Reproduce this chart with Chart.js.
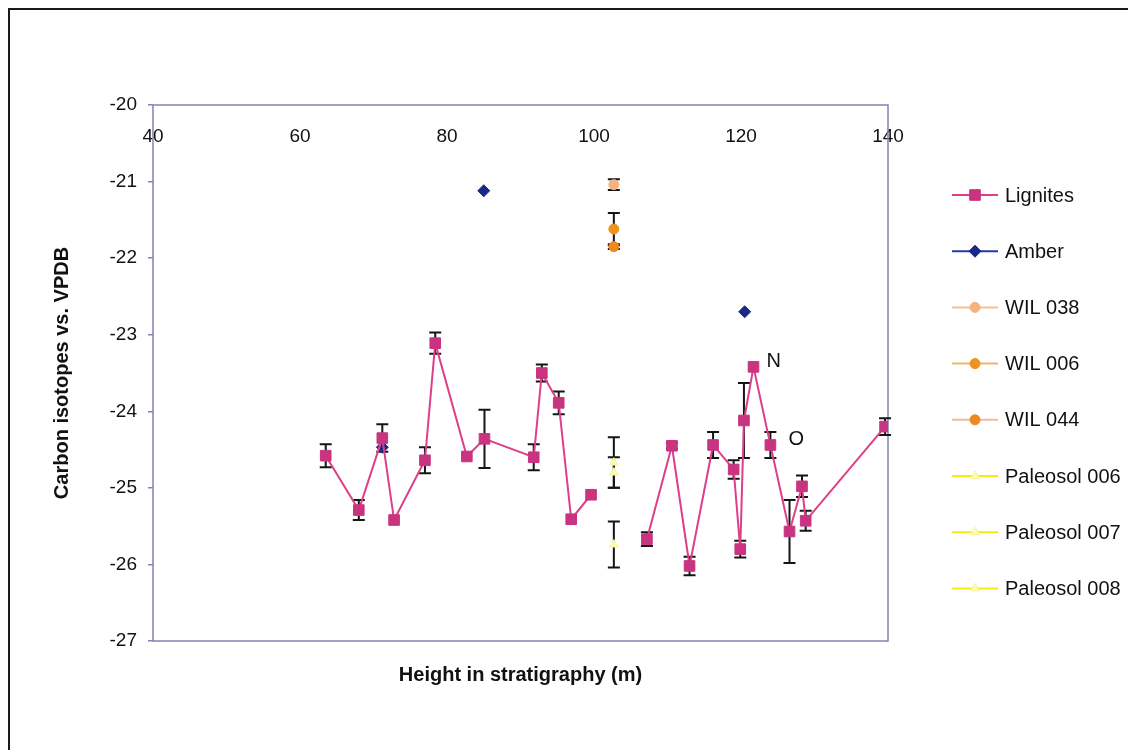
<!DOCTYPE html>
<html>
<head>
<meta charset="utf-8">
<title>Carbon isotopes vs. VPDB</title>
<script src="https://cdn.jsdelivr.net/npm/chart.js@4.4.1/dist/chart.umd.min.js"></script>
<style>
    html, body { margin: 0; padding: 0; background: #ffffff; }
    #chartBox { width: 1128px; height: 750px; }
</style>
</head>
<body>
<div id="chartBox"><canvas id="isotopeChart" width="1128" height="750"></canvas></div>
<script>
// axis ticks
const xTickValues = [40, 60, 80, 100, 120, 140];
const yTickValues = [-27, -26, -25, -24, -23, -22, -21, -20];

// Lignites (null = break in the line)
const ligniteX = [63.5, 68.0, 71.2, 72.8, 77.0, 78.4, 82.7, 85.1, 91.8, 92.9, 95.2, 96.9, 99.6, 103.0,
    107.2, 110.6, 113.0, 116.2, 119.0, 119.9, 120.4, 121.7, 124.0, 126.6, 128.3, 128.8, 139.6];
const ligniteY = [-24.58, -25.29, -24.35, -25.42, -24.64, -23.11, -24.59, -24.36, -24.60, -23.50, -23.89, -25.41, -25.09, null,
    -25.67, -24.45, -26.02, -24.44, -24.76, -25.80, -24.12, -23.42, -24.44, -25.57, -24.98, -25.43, -24.20];
const ligniteErr = [0.15, 0.13, 0.18, 0, 0.17, 0.14, 0, 0.38, 0.17, 0.11, 0.15, 0, 0, 0,
    0.09, 0.04, 0.12, 0.17, 0.12, 0.11, 0.49, 0, 0.17, 0.41, 0.14, 0.13, 0.11];

// Amber
const amberX = [71.2, 85.0, 120.5];
const amberY = [-24.47, -21.12, -22.70];

// single samples
const wil038X = [102.7], wil038Y = [-21.04], wil038Err = [0.07];
const wil006X = [102.7], wil006Y = [-21.62], wil006Err = [0.21];
const wil044X = [102.7], wil044Y = [-21.85], wil044Err = [0.03];
const paleo006X = [102.7], paleo006Y = [-24.67], paleo006Err = [0.33];
const paleo007X = [102.7], paleo007Y = [-24.80], paleo007Err = [0.20];
const paleo008X = [102.7], paleo008Y = [-25.74], paleo008Err = [0.30];

// point labels
const pointLabels = [
    { text: 'N', x: 121.7, y: -23.42 },
    { text: 'O', x: 124.0, y: -24.44 }
];

const fontFamily = "'Liberation Sans', Arial, Helvetica, sans-serif";
const plotBorderColor = '#8383b2';

function toPoints(xs, ys) {
    return xs.map((x, i) => ({ x: x, y: ys[i] }));
}

function makeSeries(label, xs, ys, errs, style) {
    return Object.assign({
        label: label,
        data: toPoints(xs, ys),
        errors: errs,
        showLine: false,
        borderWidth: 2,
        pointBorderWidth: 1
    }, style);
}

const datasets = [
    makeSeries('Lignites', ligniteX, ligniteY, ligniteErr, {
        showLine: true, spanGaps: false, borderColor: '#de3f88', legendLine: '#de3f88',
        pointStyle: 'rect', pointRadius: 7.5, pointBackgroundColor: '#c8347f', pointBorderColor: '#c8347f'
    }),
    makeSeries('Amber', amberX, amberY, null, {
        borderColor: '#2438a6', legendLine: '#2438a6',
        pointStyle: 'rectRot', pointRadius: 6, pointBackgroundColor: '#1c2888', pointBorderColor: '#1c2888'
    }),
    makeSeries('WIL 038', wil038X, wil038Y, wil038Err, {
        borderColor: '#f7c08f', legendLine: '#f7c08f',
        pointStyle: 'circle', pointRadius: 5, pointBackgroundColor: '#f6b27e', pointBorderColor: '#f6b27e'
    }),
    makeSeries('WIL 006', wil006X, wil006Y, wil006Err, {
        borderColor: '#f4b46c', legendLine: '#f4b46c',
        pointStyle: 'circle', pointRadius: 5, pointBackgroundColor: '#f0921e', pointBorderColor: '#f0921e'
    }),
    makeSeries('WIL 044', wil044X, wil044Y, wil044Err, {
        borderColor: '#f2b8a2', legendLine: '#f2b8a2',
        pointStyle: 'circle', pointRadius: 5, pointBackgroundColor: '#ec8a22', pointBorderColor: '#ec8a22'
    }),
    makeSeries('Paleosol 006', paleo006X, paleo006Y, paleo006Err, {
        borderColor: '#f2ee10', legendLine: '#f2ee10',
        pointStyle: 'triangle', pointRadius: 5, pointBackgroundColor: '#fdfcb4', pointBorderColor: '#f7f39c'
    }),
    makeSeries('Paleosol 007', paleo007X, paleo007Y, paleo007Err, {
        borderColor: '#f2ee10', legendLine: '#f2ee10',
        pointStyle: 'triangle', pointRadius: 5, pointBackgroundColor: '#fdfcb4', pointBorderColor: '#f7f39c'
    }),
    makeSeries('Paleosol 008', paleo008X, paleo008Y, paleo008Err, {
        borderColor: '#f2ee10', legendLine: '#f2ee10',
        pointStyle: 'triangle', pointRadius: 5, pointBackgroundColor: '#fdfcb4', pointBorderColor: '#f7f39c'
    })
];

// outer frame, plot border and error bars
const framePlugin = {
    id: 'frame',
    beforeDraw(chart) {
        const ctx = chart.ctx;
        ctx.save();
        ctx.fillStyle = '#ffffff';
        ctx.fillRect(0, 0, chart.width, chart.height);
        ctx.strokeStyle = '#1a1a1a';
        ctx.lineWidth = 2;
        ctx.strokeRect(9, 9, chart.width + 20, chart.height + 20);
        ctx.restore();
    },
    beforeDatasetsDraw(chart) {
        const { ctx, chartArea: a, scales } = chart;
        ctx.save();
        ctx.strokeStyle = plotBorderColor;
        ctx.lineWidth = 1.5;
        ctx.strokeRect(a.left, a.top, a.right - a.left, a.bottom - a.top);

        ctx.strokeStyle = '#151515';
        ctx.lineWidth = 2;
        chart.data.datasets.forEach(ds => {
            if (!ds.errors) return;
            ds.data.forEach((p, j) => {
                const e = ds.errors[j];
                if (p.y === null || !e) return;
                const px = scales.x.getPixelForValue(p.x);
                const top = scales.y.getPixelForValue(p.y + e);
                const bottom = scales.y.getPixelForValue(p.y - e);
                ctx.beginPath();
                ctx.moveTo(px, top);
                ctx.lineTo(px, bottom);
                ctx.moveTo(px - 6, top);
                ctx.lineTo(px + 6, top);
                ctx.moveTo(px - 6, bottom);
                ctx.lineTo(px + 6, bottom);
                ctx.stroke();
            });
        });
        ctx.restore();
    },
    afterDraw(chart) {
        const { ctx, scales } = chart;
        ctx.save();
        ctx.fillStyle = '#111111';
        ctx.textBaseline = 'middle';
        ctx.textAlign = 'left';

        // N / O labels next to their points
        ctx.font = '20px ' + fontFamily;
        pointLabels.forEach(l => {
            const px = scales.x.getPixelForValue(l.x);
            const py = scales.y.getPixelForValue(l.y);
            ctx.fillText(l.text, px + (l.text === 'N' ? 13 : 18), py - 5);
        });

        // legend on the right
        ctx.font = '20px ' + fontFamily;
        chart.data.datasets.forEach((ds, i) => {
            const ly = 195 + i * 56.2;
            ctx.strokeStyle = ds.legendLine;
            ctx.lineWidth = 2;
            ctx.beginPath();
            ctx.moveTo(952, ly);
            ctx.lineTo(998, ly);
            ctx.stroke();
            ctx.fillStyle = ds.pointBackgroundColor;
            ctx.strokeStyle = ds.pointBorderColor;
            ctx.lineWidth = 1;
            Chart.helpers.drawPoint(ctx, {
                pointStyle: ds.pointStyle, radius: ds.pointRadius, rotation: 0, borderWidth: 1
            }, 975, ly);
            ctx.fillStyle = '#111111';
            ctx.fillText(ds.label, 1005, ly + 1);
        });
        ctx.restore();
    }
};

const ctx = document.getElementById('isotopeChart').getContext('2d');
new Chart(ctx, {
    type: 'scatter',
    data: { datasets: datasets },
    plugins: [framePlugin],
    options: {
        responsive: false,
        animation: false,
        devicePixelRatio: 1,
        layout: { padding: { left: 40, top: 105, right: 240, bottom: 63 } },
        plugins: {
            legend: { display: false },
            tooltip: { enabled: false }
        },
        scales: {
            x: {
                type: 'linear',
                position: 'top',
                min: xTickValues[0],
                max: xTickValues[xTickValues.length - 1],
                afterBuildTicks: s => { s.ticks = xTickValues.map(v => ({ value: v })); },
                afterFit: s => { s.height = 0; },
                grid: { display: false, drawTicks: false },
                border: { display: false },
                ticks: { mirror: true, padding: 20, color: '#111111', font: { family: fontFamily, size: 19 } }
            },
            xTitle: {
                type: 'linear',
                axis: 'x',
                position: 'bottom',
                min: xTickValues[0],
                max: xTickValues[xTickValues.length - 1],
                afterFit: s => { s.height = 46; },
                grid: { display: false, drawTicks: false },
                border: { display: false },
                ticks: { display: false },
                title: {
                    display: true,
                    text: 'Height in stratigraphy (m)',
                    color: '#111111',
                    padding: 0,
                    font: { family: fontFamily, size: 20, weight: 'bold' }
                }
            },
            y: {
                type: 'linear',
                min: yTickValues[0],
                max: yTickValues[yTickValues.length - 1],
                afterBuildTicks: s => { s.ticks = yTickValues.map(v => ({ value: v })); },
                afterFit: s => { s.width = 113; },
                grid: { drawOnChartArea: false, tickLength: 5, color: plotBorderColor, lineWidth: 1.5 },
                border: { display: false },
                ticks: { padding: 11, color: '#111111', font: { family: fontFamily, size: 19 } },
                title: {
                    display: true,
                    text: 'Carbon isotopes vs. VPDB',
                    color: '#111111',
                    padding: { top: 10, bottom: 0 },
                    font: { family: fontFamily, size: 20, weight: 'bold' }
                }
            }
        }
    }
});
</script>
</body>
</html>
